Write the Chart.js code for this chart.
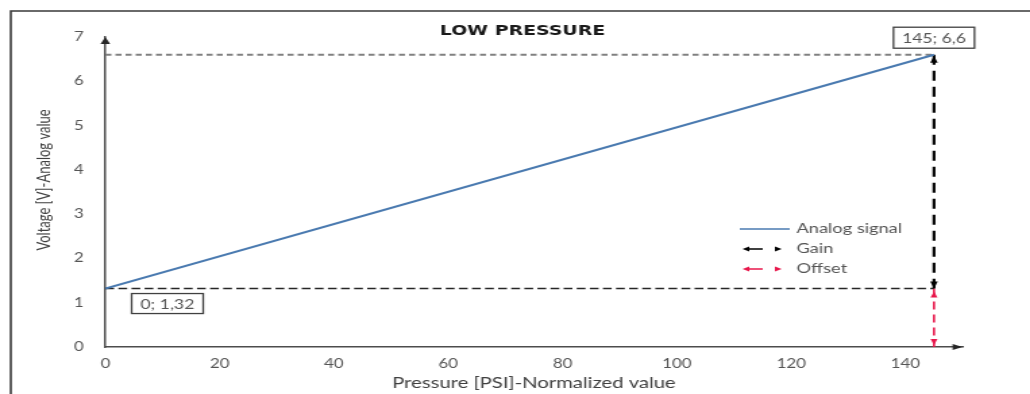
<!DOCTYPE html>
<html>
<head>
<meta charset="utf-8">
<title>Low pressure sensor</title>
<script src="https://cdn.jsdelivr.net/npm/chart.js@4.4.1/dist/chart.umd.min.js"></script>
<style>
  html, body { margin: 0; padding: 0; background: #fff; overflow: hidden; }
  /* the sheet is drawn narrow and stretched wide, like the exported figure */
  #wrap { width: 763px; height: 394px; transform: scaleX(1.35); transform-origin: 0 0; }
</style>
</head>
<body>
<div id="wrap"><canvas id="chart" width="763" height="394"></canvas></div>
<script>
  // sensor range: pressure (normalized) against output voltage
  const pressure = [0, 145];
  const voltage = [1.32, 6.6];
  const xTicks = [0, 20, 40, 60, 80, 100, 120, 140];
  const yTicks = [0, 1, 2, 3, 4, 5, 6, 7];
  const pointLabels = ['0; 1,32', '145; 6,6'];
  const legendItems = ['Analog signal', 'Gain', 'Offset'];

  const pMin = pressure[0], pMax = pressure[1];
  const vMin = voltage[0], vMax = voltage[1];

  const BLUE = '#4a7ab0';
  const RED = '#e8174b';
  const TXT = '#555555';

  function arrow(ctx, x, y, dir, len, half, color) {
    ctx.save();
    ctx.fillStyle = color;
    ctx.beginPath();
    ctx.moveTo(x, y);
    if (dir === 'up') { ctx.lineTo(x - half, y + len); ctx.lineTo(x + half, y + len); }
    if (dir === 'down') { ctx.lineTo(x - half, y - len); ctx.lineTo(x + half, y - len); }
    if (dir === 'right') { ctx.lineTo(x - len, y - half); ctx.lineTo(x - len, y + half); }
    if (dir === 'left') { ctx.lineTo(x + len, y - half); ctx.lineTo(x + len, y + half); }
    ctx.closePath();
    ctx.fill();
    ctx.restore();
  }

  function boxLabel(ctx, text, cx, cy, w, h) {
    ctx.save();
    ctx.fillStyle = '#fff';
    ctx.fillRect(cx - w / 2, cy - h / 2, w, h);
    ctx.strokeStyle = '#404040';
    ctx.lineWidth = 1.3;
    ctx.strokeRect(cx - w / 2, cy - h / 2, w, h);
    ctx.fillStyle = TXT;
    ctx.font = '13px Lato';
    ctx.textAlign = 'center';
    ctx.textBaseline = 'middle';
    ctx.fillText(text, cx, cy + 1);
    ctx.restore();
  }

  const schematic = {
    id: 'schematic',
    beforeDraw(chart) {
      const ctx = chart.ctx;
      ctx.save();
      ctx.fillStyle = '#fff';
      ctx.fillRect(0, 0, chart.width, chart.height);
      // sheet frame (top and left edges)
      ctx.strokeStyle = '#3a3a3a';
      ctx.lineWidth = 1.6;
      ctx.beginPath();
      ctx.moveTo(8, chart.height);
      ctx.lineTo(8, 11);
      ctx.lineTo(chart.width, 11);
      ctx.stroke();
      ctx.restore();
    },
    afterDatasetsDraw(chart) {
      const ctx = chart.ctx;
      const xs = chart.scales.x, ys = chart.scales.y;
      const area = chart.chartArea;

      // axis arrows
      arrow(ctx, xs.getPixelForValue(0), ys.getPixelForValue(7), 'up', 7, 3.6, '#262626');
      arrow(ctx, area.right, ys.getPixelForValue(0), 'right', 7.4, 3, '#262626');

      // gain / offset arrow heads at the end of the range
      const xe = xs.getPixelForValue(pMax);
      arrow(ctx, xe, ys.getPixelForValue(vMax) + 1, 'up', 7, 2.8, '#000');
      arrow(ctx, xe, ys.getPixelForValue(vMin), 'down', 7, 2.8, '#000');
      arrow(ctx, xe, ys.getPixelForValue(vMin) + 3, 'up', 6, 2.6, RED);
      arrow(ctx, xe, ys.getPixelForValue(0) - 2, 'down', 6, 2.6, RED);

      // point labels
      boxLabel(ctx, pointLabels[0], xs.getPixelForValue(pMin) + 46, ys.getPixelForValue(vMin) + 15, 53, 20);
      boxLabel(ctx, pointLabels[1], xe, ys.getPixelForValue(vMax) - 17, 60, 21);

      // legend
      const lx = 548, ly = 229, gap = 20;
      ctx.save();
      ctx.strokeStyle = BLUE;
      ctx.lineWidth = 1.3;
      ctx.beginPath();
      ctx.moveTo(lx, ly);
      ctx.lineTo(lx + 37, ly);
      ctx.stroke();
      [['#000', 1], [RED, 2]].forEach(([c, i]) => {
        const y = ly + gap * i;
        ctx.strokeStyle = c;
        ctx.lineWidth = 1.5;
        ctx.beginPath();
        ctx.moveTo(lx + 4, y);
        ctx.lineTo(lx + 17, y);
        ctx.stroke();
        arrow(ctx, lx + 2, y, 'left', 5, 2.5, c);
        arrow(ctx, lx + 31, y, 'right', 5, 2.5, c);
      });
      ctx.fillStyle = TXT;
      ctx.font = '13.5px Lato';
      ctx.textBaseline = 'middle';
      legendItems.forEach((t, i) => ctx.fillText(t, lx + 42, ly + gap * i));

      // title
      ctx.fillStyle = '#1a1a1a';
      ctx.font = 'bold 14px "DejaVu Sans"';
      ctx.textAlign = 'center';
      ctx.fillText('LOW PRESSURE', 387, 31);

      // y axis title
      ctx.translate(33, 180);
      ctx.rotate(-Math.PI / 2);
      ctx.fillStyle = '#404040';
      ctx.font = '13px Lato';
      ctx.fillText('Voltage [V]-Analog value', 0, 0);
      ctx.restore();
    }
  };

  const line = (data, color, width, dash, order) => ({
    data, borderColor: color, borderWidth: width, borderDash: dash,
    showLine: true, pointRadius: 0, fill: false, order
  });

  new Chart(document.getElementById('chart'), {
    type: 'scatter',
    data: {
      datasets: [
        line(pressure.map((p, i) => ({ x: p, y: voltage[i] })), BLUE, 2, [], 0),
        line([{ x: pMin, y: vMax }, { x: pMax, y: vMax }], '#808080', 2, [4.5, 3], 3),
        line([{ x: pMin, y: vMin }, { x: pMax, y: vMin }], '#262626', 1.5, [6.5, 3.2], 2),
        line([{ x: pMax, y: vMax }, { x: pMax, y: vMin }], '#000', 2.2, [10, 6], 1),
        line([{ x: pMax, y: vMin }, { x: pMax, y: 0 }], RED, 1.6, [8, 5], 1)
      ]
    },
    options: {
      responsive: false,
      animation: false,
      layout: { padding: { top: 37, right: 50, left: 0, bottom: 0 } },
      plugins: { legend: { display: false }, tooltip: { enabled: false } },
      scales: {
        x: {
          type: 'linear', min: 0, max: 150,
          afterBuildTicks: s => { s.ticks = xTicks.map(v => ({ value: v })); },
          afterFit: s => { s.height = 47; },
          grid: { display: false, drawTicks: false },
          border: { display: true, color: '#4d4d4d', width: 1.5 },
          ticks: { color: TXT, font: { family: 'Lato', size: 12.5 }, padding: 9 },
          title: {
            display: true, text: 'Pressure [PSI]-Normalized value', color: '#404040',
            font: { family: 'Lato', size: 15 }, padding: { top: 0, bottom: 2 }
          }
        },
        y: {
          min: 0, max: 7,
          afterBuildTicks: s => { s.ticks = yTicks.map(v => ({ value: v })); },
          afterFit: s => { s.width = 78; },
          grid: { display: false, drawTicks: false },
          border: { display: true, color: '#4d4d4d', width: 1.5 },
          ticks: { color: TXT, font: { family: 'Lato', size: 12.5 }, padding: 16 }
        }
      }
    },
    plugins: [schematic]
  });
</script>
</body>
</html>
